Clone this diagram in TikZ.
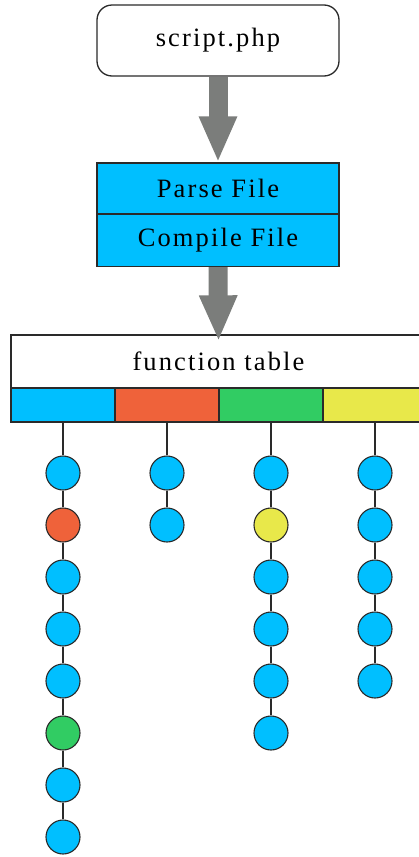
\documentclass[tikz,border=0pt]{standalone}
\usepackage{fontspec}
\setmainfont{Liberation Serif}[LetterSpace=8]
\usetikzlibrary{arrows.meta}
\definecolor{skyb}{HTML}{00BFFF}
\definecolor{redc}{HTML}{EF623A}
\definecolor{greenc}{HTML}{31CC63}
\definecolor{yellowc}{HTML}{E8E84A}
\definecolor{arrowgray}{HTML}{7B7D7B}
\definecolor{edgec}{HTML}{2A2A2A}
\tikzset{
  box/.style={draw=edgec, line width=1.3pt, minimum width=242pt, inner sep=0pt, font=\fontsize{26.5}{30}\selectfont},
  cell/.style={draw=edgec, line width=1.3pt, minimum width=104pt, minimum height=34pt, inner sep=0pt},
  dot/.style={circle, draw=edgec, line width=1.1pt, minimum size=34pt, inner sep=0pt, fill=skyb},
  bigarrow/.style={draw=arrowgray, line width=19pt, -{Triangle[length=46pt,width=35pt]}},
  link/.style={draw=edgec, line width=1.2pt}
}
\begin{document}
\begin{tikzpicture}[x=1pt,y=-1pt]
\useasboundingbox (0,0) rectangle (419,857);
\node[box, rounded corners=15pt, minimum height=71pt, fill=white] (script) at (218,40.5) {script.php};
\node[box, minimum height=51pt, fill=skyb] (parse) at (218,188.5) {Parse File};
\node[box, minimum height=52pt, fill=skyb] (compile) at (218,240.5) {Compile File};
\node[box, minimum width=415pt, minimum height=53pt, fill=white] (ftable) at (218.5,361.5) {function table};
\node[cell, fill=skyb] (c1) at (63,405) {};
\node[cell, fill=redc] (c2) at (167,405) {};
\node[cell, fill=greenc] (c3) at (271,405) {};
\node[cell, fill=yellowc] (c4) at (375,405) {};
\draw[bigarrow] (script.south) -- (parse.north);
\draw[bigarrow, shorten >=-7pt] (compile.south) -- (ftable.north);
% column 1
\node[dot] (a1) at (63,473) {};
\node[dot, fill=redc] (a2) at (63,525) {};
\node[dot] (a3) at (63,577) {};
\node[dot] (a4) at (63,629) {};
\node[dot] (a5) at (63,681) {};
\node[dot, fill=greenc] (a6) at (63,733) {};
\node[dot] (a7) at (63,785) {};
\node[dot] (a8) at (63,837) {};
% column 2
\node[dot] (b1) at (167,473) {};
\node[dot] (b2) at (167,525) {};
% column 3
\node[dot] (d1) at (271,473) {};
\node[dot, fill=yellowc] (d2) at (271,525) {};
\node[dot] (d3) at (271,577) {};
\node[dot] (d4) at (271,629) {};
\node[dot] (d5) at (271,681) {};
\node[dot] (d6) at (271,733) {};
% column 4
\node[dot] (e1) at (375,473) {};
\node[dot] (e2) at (375,525) {};
\node[dot] (e3) at (375,577) {};
\node[dot] (e4) at (375,629) {};
\node[dot] (e5) at (375,681) {};
\draw[link] (c1) -- (a1) -- (a2) -- (a3) -- (a4) -- (a5) -- (a6) -- (a7) -- (a8);
\draw[link] (c2) -- (b1) -- (b2);
\draw[link] (c3) -- (d1) -- (d2) -- (d3) -- (d4) -- (d5) -- (d6);
\draw[link] (c4) -- (e1) -- (e2) -- (e3) -- (e4) -- (e5);
\end{tikzpicture}
\end{document}
